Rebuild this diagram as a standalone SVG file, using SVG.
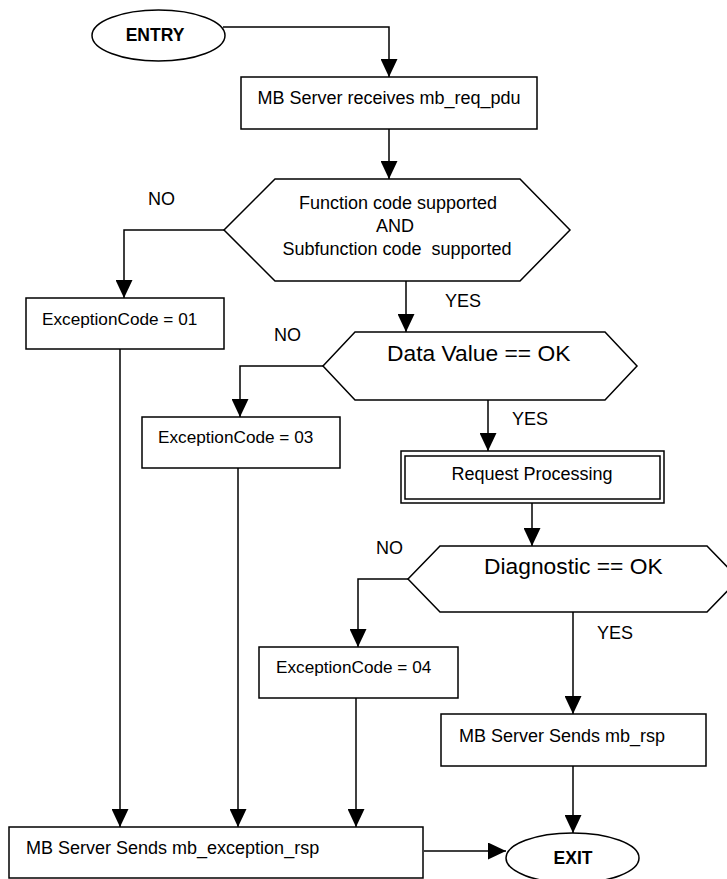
<svg xmlns="http://www.w3.org/2000/svg" width="727" height="879" viewBox="0 0 727 879">
<style>
  .shape { fill: #fff; stroke: #000; stroke-width: 1.5; }
  .t { font-family: "Liberation Sans", Arial, sans-serif; font-size: 18px; fill: #000; }
  .ec { font-size: 17.2px; }
  .big { font-size: 22.8px; }
  .b { font-weight: bold; font-size: 17.5px; }
  .mid { text-anchor: middle; }
  .conn { fill: none; stroke: #000; stroke-width: 1.5; marker-end: url(#arr); }
  .plain { fill: none; stroke: #000; stroke-width: 1.5; }
</style>
<defs>
  <marker id="arr" markerUnits="userSpaceOnUse" markerWidth="18" markerHeight="17" refX="18" refY="8.5" orient="auto">
    <path d="M0,0 L18,8.5 L0,17 z" fill="#000"/>
  </marker>
</defs>
<rect width="727" height="879" fill="#fff"/>

<g id="connectors">
  <path class="conn" d="M223,27 H389 V77"/>
  <path class="conn" d="M389,129 V179"/>
  <path class="conn" d="M224,230 H124 V298"/>
  <path class="conn" d="M406,281 V332"/>
  <path class="conn" d="M323,366 H240 V417"/>
  <path class="conn" d="M488,400 V451"/>
  <path class="conn" d="M532,503 V546"/>
  <path class="conn" d="M408,579 H358 V647"/>
  <path class="conn" d="M573,612 V714"/>
  <path class="conn" d="M573,766 V833"/>
  <path class="conn" d="M120,349 V827"/>
  <path class="conn" d="M238,468 V827"/>
  <path class="conn" d="M356,698 V827"/>
  <path class="conn" d="M424,851 H506"/>
</g>

<g id="entry">
  <ellipse class="shape" cx="158.5" cy="35.5" rx="66.5" ry="25.5"/>
  <text class="t b mid" x="155" y="41">ENTRY</text>
</g>

<g id="receive">
  <rect class="shape" x="241" y="77" width="296" height="52"/>
  <text class="t mid" x="389" y="104">MB Server receives mb_req_pdu</text>
</g>

<g id="decision-function">
  <polygon class="shape" points="275,179 520,179 570,230 520,281 275,281 224,230"/>
  <text class="t mid" x="398" y="209">Function code supported</text>
  <text class="t mid" x="395" y="232">AND</text>
  <text class="t mid" x="397" y="255" xml:space="preserve">Subfunction code  supported</text>
</g>

<g id="label-no-1"><text class="t" x="148" y="205">NO</text></g>
<g id="label-yes-1"><text class="t" x="445" y="307">YES</text></g>

<g id="exception-01">
  <rect class="shape" x="26" y="298" width="198" height="51"/>
  <text class="t ec" x="42" y="325">ExceptionCode = 01</text>
</g>

<g id="decision-data">
  <polygon class="shape" points="355,332 605,332 637,366 605,400 355,400 323,366"/>
  <text class="t big" x="387" y="361">Data Value == OK</text>
</g>

<g id="label-no-2"><text class="t" x="274" y="341">NO</text></g>
<g id="label-yes-2"><text class="t" x="512" y="425">YES</text></g>

<g id="exception-03">
  <rect class="shape" x="142" y="417" width="198" height="51"/>
  <text class="t ec" x="158" y="443">ExceptionCode = 03</text>
</g>

<g id="request-processing">
  <rect class="shape" x="401" y="451" width="263" height="52"/>
  <rect class="plain" x="405" y="456" width="255" height="43" stroke-width="2"/>
  <text class="t mid" x="532" y="480">Request Processing</text>
</g>

<g id="decision-diagnostic">
  <polygon class="shape" points="440,546 707,546 739,579 707,612 440,612 408,579"/>
  <text class="t big" x="484" y="574">Diagnostic == OK</text>
</g>

<g id="label-no-3"><text class="t" x="376" y="554">NO</text></g>
<g id="label-yes-3"><text class="t" x="597" y="639">YES</text></g>

<g id="exception-04">
  <rect class="shape" x="259" y="647" width="199" height="51"/>
  <text class="t ec" x="276" y="673">ExceptionCode = 04</text>
</g>

<g id="send-rsp">
  <rect class="shape" x="441" y="714" width="265" height="52"/>
  <text class="t" x="459" y="742">MB Server Sends mb_rsp</text>
</g>

<g id="send-exception">
  <rect class="shape" x="9" y="827" width="414" height="51"/>
  <text class="t" x="26" y="854">MB Server Sends mb_exception_rsp</text>
</g>

<g id="exit">
  <ellipse class="shape" cx="572.5" cy="858" rx="66.5" ry="25"/>
  <text class="t b mid" x="573" y="864">EXIT</text>
</g>
</svg>
